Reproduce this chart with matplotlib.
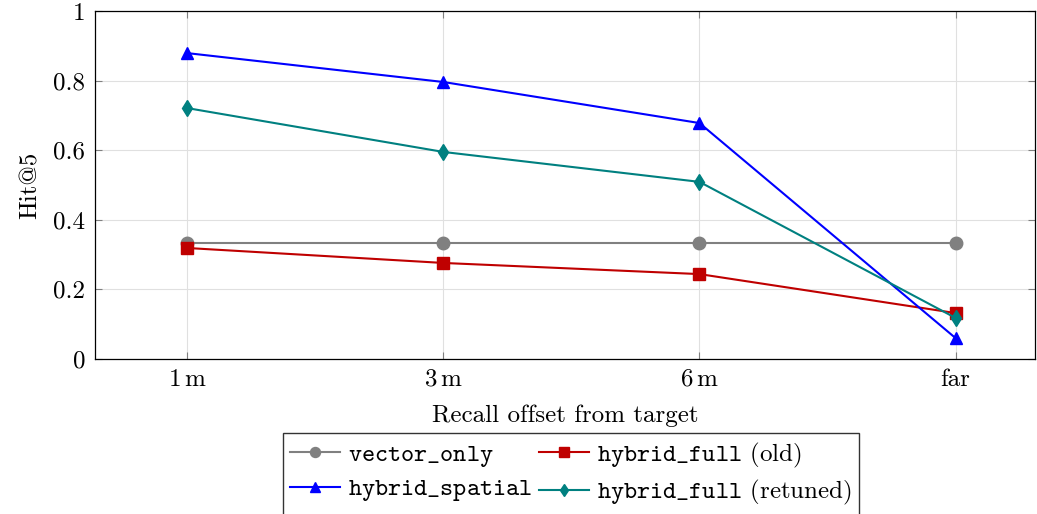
import matplotlib
matplotlib.use("Agg")
import matplotlib.pyplot as plt

plt.rcParams["font.family"] = "serif"
plt.rcParams["font.serif"] = ["cmr10"]
plt.rcParams["mathtext.fontset"] = "cm"
plt.rcParams["axes.unicode_minus"] = False
plt.rcParams["axes.formatter.use_mathtext"] = True

# data
offsets = [r"$1\,\mathrm{m}$", r"$3\,\mathrm{m}$", r"$6\,\mathrm{m}$", "far"]
vector_only = [0.333, 0.333, 0.333, 0.333]
hybrid_full_old = [0.319, 0.276, 0.244, 0.132]
hybrid_spatial = [0.879, 0.796, 0.678, 0.060]
hybrid_full_retuned = [0.721, 0.595, 0.509, 0.118]

W, H = 1037, 514
fig = plt.figure(figsize=(W / 100, H / 100), dpi=100)
ax = fig.add_axes([95 / W, 1 - 359 / H, (1035 - 95) / W, (359 - 11) / H])

x = list(range(len(offsets)))
series = [
    (vector_only, "#808080", "o", 9, r"$\mathtt{vector\_only}$"),
    (hybrid_full_old, "#bf0000", "s", 9, r"$\mathtt{hybrid\_full}$ (old)"),
    (hybrid_spatial, "#0000ff", "^", 9, r"$\mathtt{hybrid\_spatial}$"),
    (hybrid_full_retuned, "#008080", "d", 8, r"$\mathtt{hybrid\_full}$ (retuned)"),
]
lines = []
for vals, color, marker, ms, label in series:
    ln, = ax.plot(x, vals, color=color, marker=marker, markersize=ms, lw=1.5,
                  label=label, zorder=3)
    lines.append(ln)

ax.set_xlim(-0.36, 3.31)
ax.set_ylim(0, 1)
ax.set_xticks(x)
ax.set_xticklabels(offsets)
ax.set_yticks([0, 0.2, 0.4, 0.6, 0.8, 1])
ax.set_yticklabels(["0", "0.2", "0.4", "0.6", "0.8", "1"])
ax.tick_params(direction="in", length=5, color="#808080", labelsize=18,
               top=True, right=True, pad=7)
ax.grid(True, color="#e0e0e0", lw=0.8)
ax.set_axisbelow(True)
for s in ax.spines.values():
    s.set_linewidth(0.9)

ax.set_xlabel("Recall offset from target", fontsize=18, labelpad=10)
ax.set_ylabel("Hit@5", fontsize=18, labelpad=8)

# matplotlib fills columns first, reorder so rows read like the reference
order = [0, 2, 1, 3]
fig.legend([lines[i] for i in order], [series[i][4] for i in order],
           loc="upper center", bbox_to_anchor=(571 / W, 1 - 433 / H), ncol=2,
           fontsize=18, frameon=True, fancybox=False, edgecolor="black",
           handlelength=2.0, columnspacing=0.3, handletextpad=0.3,
           borderpad=0.3, labelspacing=0.35, markerscale=0.8,
           borderaxespad=0)

fig.savefig("out.png", dpi=100)
